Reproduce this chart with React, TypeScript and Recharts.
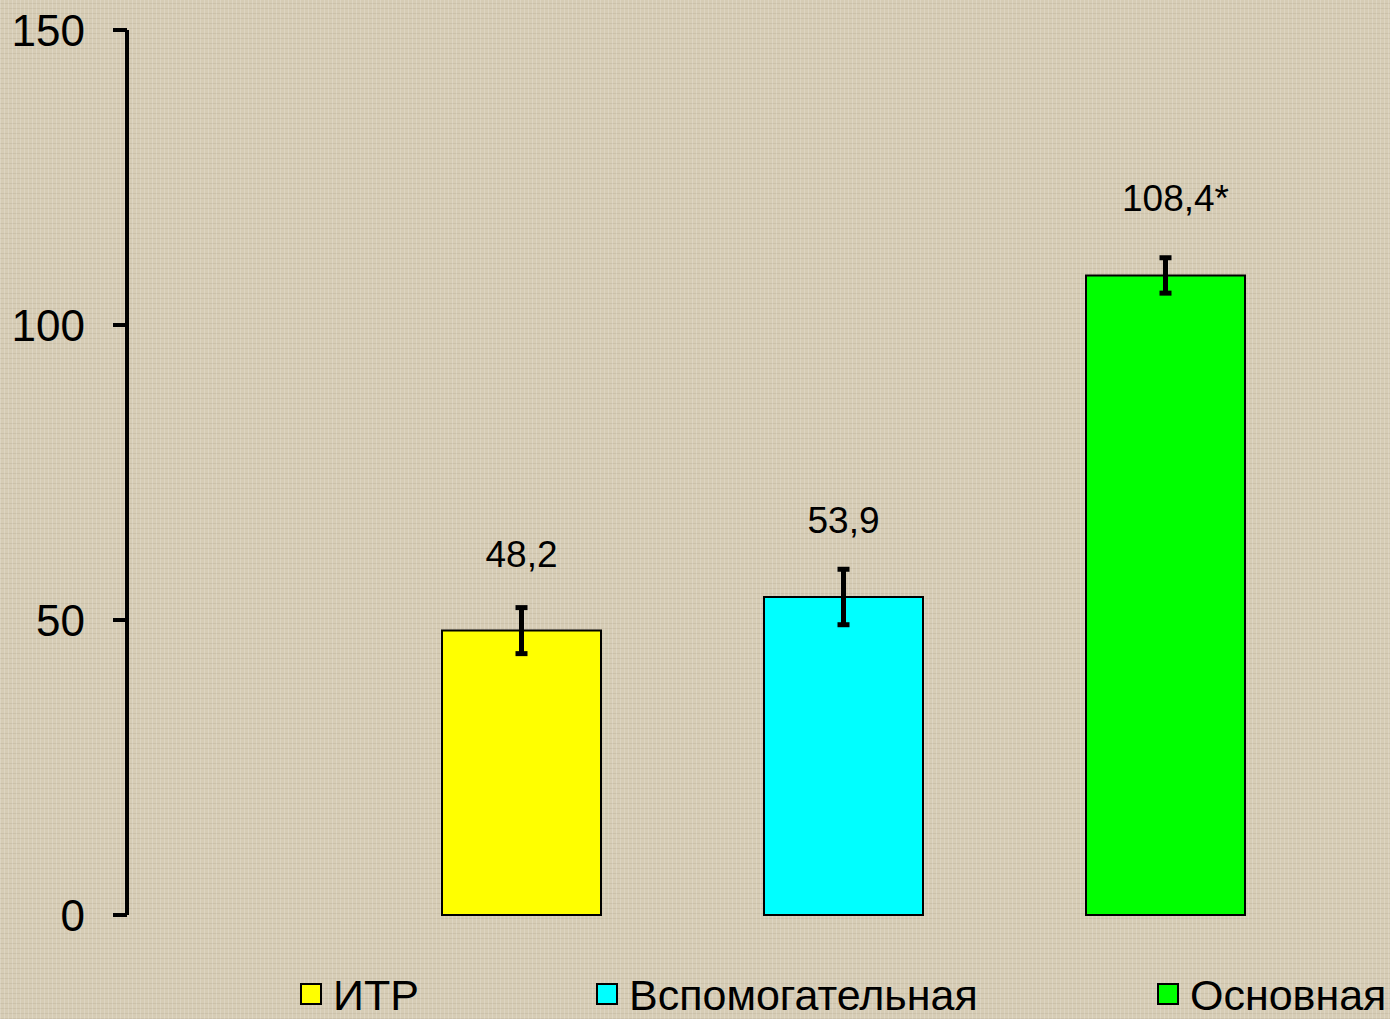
import React from "react";
import { BarChart, Bar, XAxis, YAxis, ErrorBar, Cell, LabelList } from "recharts";

const categories = ["ИТР", "Вспомогательная", "Основная"];
const values = [48.2, 53.9, 108.4];
const errors = [3.9, 4.7, 3.0];
const valueLabels = ["48,2", "53,9", "108,4*"];
const colors = ["#ffff00", "#00ffff", "#00ff00"];
const yTicks = [0, 50, 100, 150];

const data = categories.map((c, i) => ({
  name: c,
  value: values[i],
  err: errors[i],
  label: valueLabels[i],
}));

const FONT = "'Liberation Sans', Arial, sans-serif";

const renderLabel = (props: any) => {
  const { x, y, width, index } = props;
  const text = valueLabels[index];
  const star = text.endsWith("*");
  return (
    <text
      x={x + width / 2 + (star ? 10 : 0)}
      y={y - 64}
      textAnchor="middle"
      fontFamily={FONT}
      fontSize={37}
      fill="#000"
    >
      {text}
    </text>
  );
};

const legendPos = [300, 596, 1157];

export default function App() {
  return (
    <div
      style={{
        position: "absolute",
        left: 0,
        top: 0,
        width: 1390,
        height: 1019,
        overflow: "hidden",
        backgroundColor: "#d6ccb5",
        backgroundImage:
          "repeating-linear-gradient(90deg, rgba(255,255,255,0.18) 0px, rgba(255,255,255,0.18) 1px, transparent 1px, transparent 4px), repeating-linear-gradient(0deg, rgba(110,95,70,0.10) 0px, rgba(110,95,70,0.10) 1px, transparent 1px, transparent 5px)",
        fontFamily: FONT,
      }}
    >
      <BarChart
        width={1390}
        height={1019}
        data={data}
        margin={{ top: 30, right: 64, bottom: 104, left: 0 }}
        barCategoryGap={0}
      >
        <XAxis dataKey="name" hide padding={{ left: 233, right: 0 }} />
        <YAxis
          width={127}
          domain={[0, 150]}
          ticks={yTicks}
          interval={0}
          axisLine={{ stroke: "#000", strokeWidth: 4 }}
          tickLine={{ stroke: "#000", strokeWidth: 4 }}
          tickSize={14}
          tickMargin={28}
          tick={{ fill: "#000", fontSize: 44, fontFamily: FONT }}
        />
        <Bar
          dataKey="value"
          barSize={159}
          stroke="#000"
          strokeWidth={2}
          isAnimationActive={false}
        >
          {data.map((d, i) => (
            <Cell key={d.name} fill={colors[i]} />
          ))}
          <ErrorBar
            dataKey="err"
            direction="y"
            width={6}
            stroke="#000"
            strokeWidth={5}
          />
          <LabelList dataKey="label" content={renderLabel} />
        </Bar>
      </BarChart>
      {categories.map((c, i) => (
        <div
          key={c}
          style={{
            position: "absolute",
            left: legendPos[i],
            top: 973,
            height: 46,
            whiteSpace: "nowrap",
          }}
        >
          <div
            style={{
              position: "absolute",
              left: 0,
              top: 10,
              width: 18,
              height: 18,
              border: "2px solid #000",
              background: colors[i],
            }}
          />
          <div
            style={{
              position: "absolute",
              left: 33,
              top: 0,
              fontSize: 43,
              lineHeight: "44px",
              color: "#000",
            }}
          >
            {c}
          </div>
        </div>
      ))}
    </div>
  );
}
